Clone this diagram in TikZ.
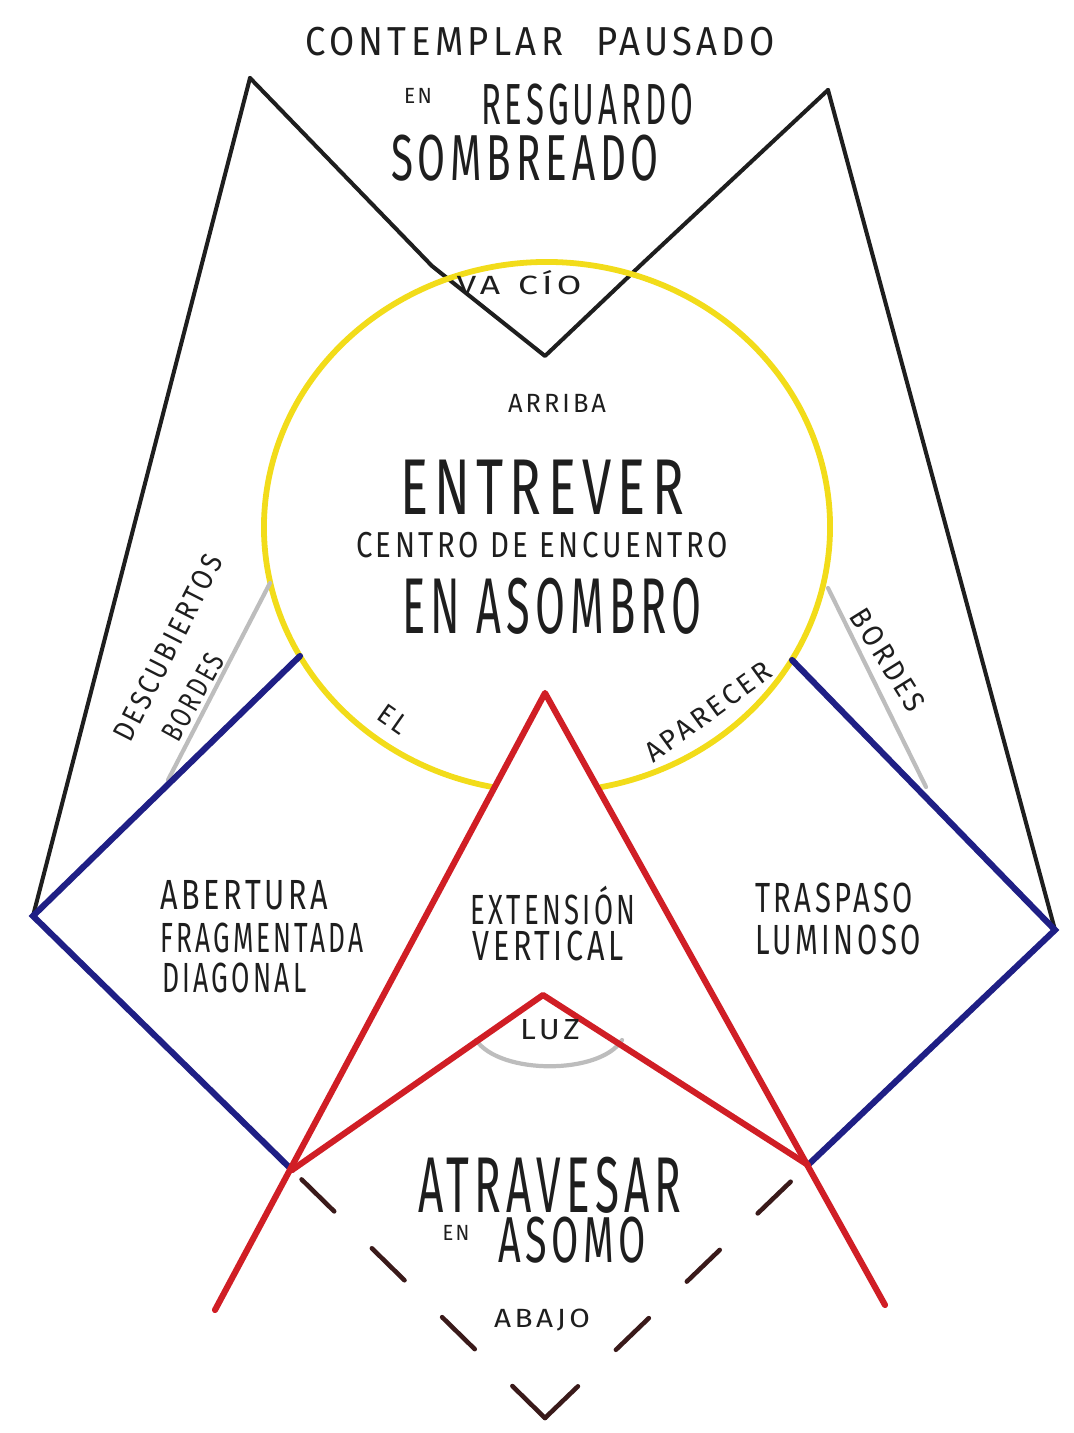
\documentclass[tikz,border=0pt]{standalone}
\usepackage{graphicx}
\usepackage{fontspec}
\setmainfont{Fira Sans}[LetterSpace=12]
\newsavebox\hwbox
\newcommand\hw[3]{{\fontsize{#1}{#1}\selectfont\sbox\hwbox{#3}\pgfmathsetmacro\hwsx{#2*0.56906/\the\wd\hwbox}\scalebox{\hwsx}[1]{\usebox\hwbox}}}
\definecolor{inkblack}{HTML}{1E1E1E}
\definecolor{sunyellow}{HTML}{F2DC1A}
\definecolor{deepblue}{HTML}{1F1F85}
\definecolor{brightred}{HTML}{D01E25}
\definecolor{softgray}{HTML}{BDBDBD}
\definecolor{darkbrown}{HTML}{3A1A1A}
\begin{document}
\begin{tikzpicture}[x=0.02cm,y=-0.02cm,
  lbl/.style={inner sep=0pt, text=inkblack},
  blackline/.style={draw=inkblack, line width=2.3pt, line join=round, line cap=round},
  yellowline/.style={draw=sunyellow, line width=3.3pt, line cap=round},
  blueline/.style={draw=deepblue, line width=3.5pt, line cap=round},
  redline/.style={draw=brightred, line width=3.5pt, line join=round, line cap=round},
  grayline/.style={draw=softgray, line width=2.4pt, line cap=round},
  dashline/.style={draw=darkbrown, line width=2.6pt, line cap=round, dash pattern=on 26pt off 30pt}]
\useasboundingbox (0,0) rectangle (1074,1433);
% key points
\coordinate (TL) at (250,78);
\coordinate (TR) at (828,90);
\coordinate (VL) at (432,266);
\coordinate (VR) at (644,262);
\coordinate (V) at (545,356);
\coordinate (L) at (33,916);
\coordinate (R) at (1055,930);
\coordinate (BLup) at (300,656);
\coordinate (BRup) at (792,660);
\coordinate (BL) at (292,1170);
\coordinate (BR) at (808,1165);
\coordinate (A) at (545,693);
\coordinate (RL) at (215,1310);
\coordinate (RR) at (885,1305);
\coordinate (IA) at (543,995);
\coordinate (Bot) at (545,1418);
\coordinate (C) at (547,527);
\coordinate (gl1) at (270,583);
\coordinate (gl2) at (168,780);
\coordinate (gr1) at (828,588);
\coordinate (gr2) at (926,787);
\coordinate (arc1) at (476,1040);
\coordinate (arc2) at (622,1040);
% black frame
\draw[blackline] (TL) -- (VL) -- (V) -- (VR) -- (TR);
\draw[blackline] (TL) -- (L);
\draw[blackline] (TR) -- (R);
% yellow circle
\draw[yellowline] (C) ++(101:283 and 265) arc[start angle=101, end angle=439, x radius=283, y radius=265];
% gray
\draw[grayline] (gl1) -- (gl2);
\draw[grayline] (gr1) -- (gr2);
\draw[grayline] (arc1) .. controls (500,1075) and (600,1075) .. (arc2);
% blue
\draw[blueline] (BLup) -- (L) -- (BL);
\draw[blueline] (BRup) -- (R) -- (BR);
% dashed
\draw[dashline] (Bot) -- (BL);
\draw[dashline] (Bot) -- (BR);
% red
\draw[redline] (RL) -- (A) -- (RR);
\draw[redline] (BL) -- (IA) -- (BR);
% texts
\node[lbl] (t1) at (540,42) {\hw{23}{470}{CONTEMPLAR\hspace{0.9em}PAUSADO}};
\node[lbl] (t2) at (418,96) {\hw{12.5}{28}{EN}};
\node[lbl] (t3) at (587,105) {\hw{33}{212}{RESGUARDO}};
\node[lbl] (t4) at (525,158) {\hw{37}{268}{SOMBREADO}};
\node[lbl] (t5) at (519,283) {\hw{15}{125}{VA\hspace{0.5em}CÍO}};
\node[lbl] (t6) at (557,403) {\hw{15}{98}{ARRIBA}};
\node[lbl] (t7) at (542,487) {\hw{45}{284}{ENTREVER}};
\node[lbl] (t8) at (542,545) {\hw{20.5}{372}{CENTRO DE ENCUENTRO}};
\node[lbl] (t9) at (552,606) {\hw{45}{300}{EN ASOMBRO}};
\node[lbl, rotate=-35] (t10) at (393,719) {\hw{16}{30}{EL}};
\node[lbl, rotate=36] (t11) at (708,712) {\hw{16}{150}{APARECER}};
\node[lbl, rotate=63] (t12) at (168,648) {\hw{17}{205}{DESCUBIERTOS}};
\node[lbl, rotate=61] (t13) at (193,697) {\hw{17}{95}{BORDES}};
\node[lbl, rotate=-58] (t14) at (888,660) {\hw{17}{115}{BORDES}};
\node[lbl, anchor=west] (t15) at (160,895) {\hw{24}{168}{ABERTURA}};
\node[lbl, anchor=west] (t16) at (160,938) {\hw{24}{203}{FRAGMENTADA}};
\node[lbl, anchor=west] (t17) at (162,978) {\hw{24}{144}{DIAGONAL}};
\node[lbl] (t18) at (553,906) {\hw{24}{165}{EXTENSIÓN}};
\node[lbl] (t19) at (548,946) {\hw{24}{151}{VERTICAL}};
\node[lbl] (t20) at (834,898) {\hw{24}{158}{TRASPASO}};
\node[lbl] (t21) at (838,940) {\hw{24}{166}{LUMINOSO}};
\node[lbl] (t22) at (550,1030) {\hw{16.5}{60}{LUZ}};
\node[lbl] (t23) at (550,1185) {\hw{45}{263}{ATRAVESAR}};
\node[lbl] (t24) at (456,1233) {\hw{12.5}{27}{EN}};
\node[lbl] (t25) at (572,1240) {\hw{37}{148}{ASOMO}};
\node[lbl] (t26) at (542,1320) {\hw{15}{96}{ABAJO}};
\end{tikzpicture}
\end{document}
